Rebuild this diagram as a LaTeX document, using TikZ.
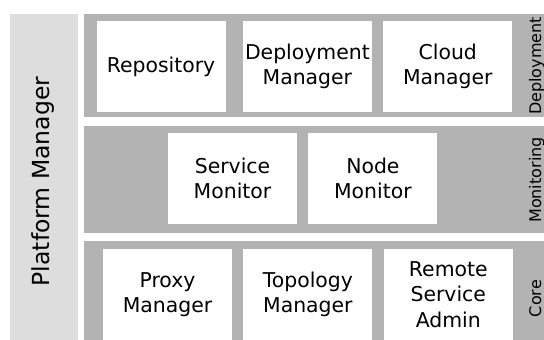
\documentclass[tikz,border=0pt]{standalone}
\usepackage{fontspec}
\setmainfont{DejaVu Sans}
\usetikzlibrary{positioning}

\definecolor{layergray}{HTML}{B3B3B3}
\definecolor{pmgray}{HTML}{DDDDDD}

\begin{document}
\begin{tikzpicture}[x=1pt,y=-1pt,
   layer/.style={fill=layergray},
   comp/.style={fill=white,draw=none,minimum width=129pt,minimum height=91pt,
     inner sep=0pt,align=center,font=\fontsize{20.4}{25.5}\selectfont},
   lname/.style={rotate=90,anchor=base,font=\fontsize{16}{19}\selectfont},
   node distance=11pt]
 \clip (0,0) rectangle (544,340);

 %platform manager panel
 \fill[pmgray] (10,14) rectangle (78,360);
 \node[rotate=90,anchor=base,font=\fontsize{23.5}{28}\selectfont] (pm) at (49,181.5) {Platform Manager};

 %layers
 \fill[layer] (84,14)  rectangle (560,117);
 \fill[layer] (84,126) rectangle (560,233);
 \fill[layer] (84,241) rectangle (560,356);

 %deployment layer
 \node[comp] (repo) at (161,66.5) {Repository};
 \node[comp, right=17pt of repo] (depman) {Deployment\\Manager};
 \node[comp, right=of depman] (cloudman) {Cloud\\Manager};
 \node[lname] (ldep) at (541,66) {Deployment};

 %monitoring layer
 \node[comp] (svcmon) at (232.5,178.5) {Service\\Monitor};
 \node[comp, right=of svcmon] (nodemon) {Node\\Monitor};
 \node[lname] (lmon) at (541,180) {Monitoring};

 %core layer
 \node[comp] (proxy) at (167.5,294.5) {Proxy\\Manager};
 \node[comp, right=of proxy] (topo) {Topology\\Manager};
 \node[comp, right=of topo] (rsa) {Remote\\Service\\Admin};
 \node[lname] (lcore) at (541,298.5) {Core};
\end{tikzpicture}
\end{document}
